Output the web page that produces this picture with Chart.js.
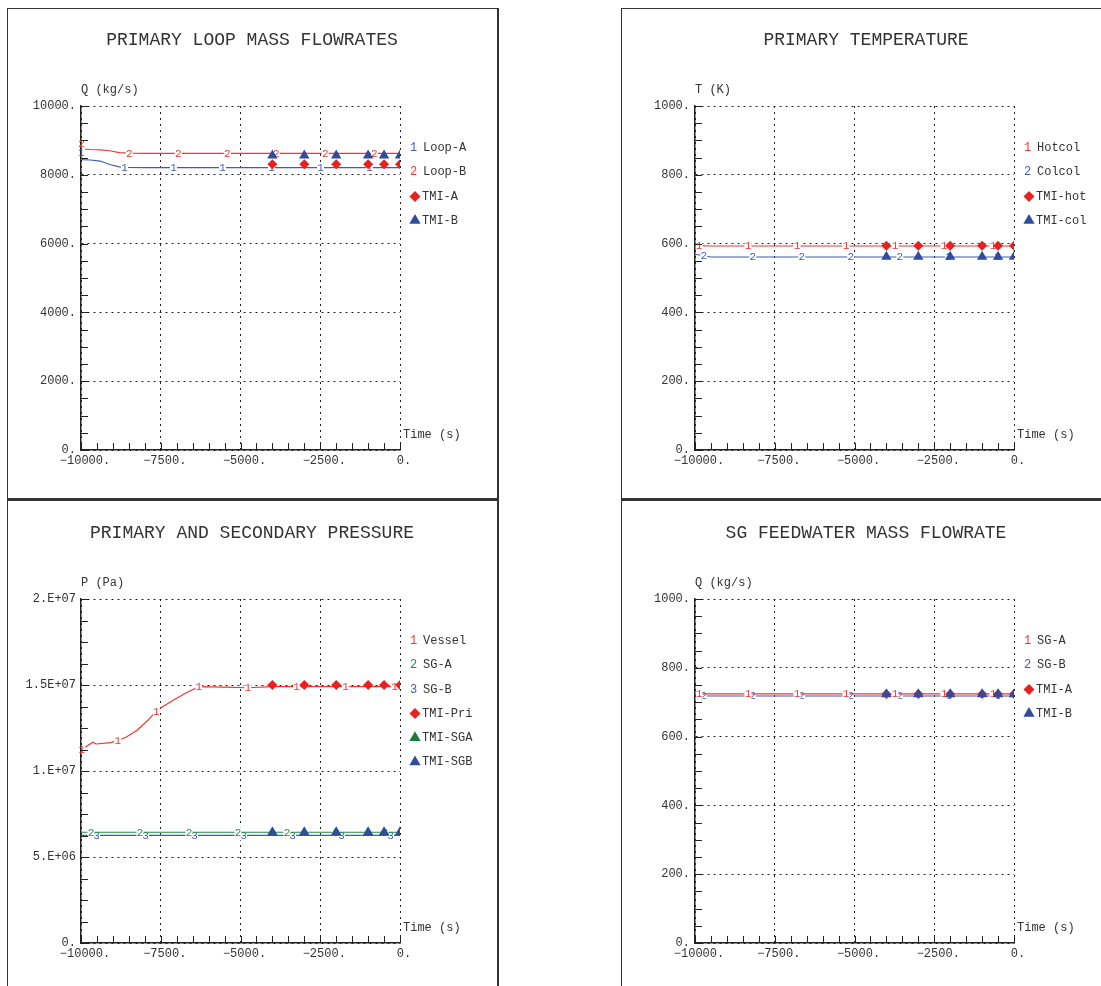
<!DOCTYPE html>
<html>
<head>
<meta charset="utf-8">
<title>Primary / secondary plant plots</title>
<script src="https://cdn.jsdelivr.net/npm/chart.js@4.4.1/dist/chart.umd.min.js"></script>
<style>
  html, body { margin: 0; padding: 0; background: #fff; overflow: hidden; width: 1101px; height: 986px; }
  .frame { position: absolute; background: #333; }
  canvas { position: absolute; }
</style>
</head>
<body>
<div class="frame" style="left:7px;top:8px;width:492px;height:1px"></div>
<div class="frame" style="left:7px;top:8px;width:1px;height:978px"></div>
<div class="frame" style="left:497px;top:8px;width:2px;height:978px"></div>
<div class="frame" style="left:7px;top:498px;width:492px;height:3px"></div>
<div class="frame" style="left:621px;top:8px;width:480px;height:1px"></div>
<div class="frame" style="left:621px;top:8px;width:1px;height:978px"></div>
<div class="frame" style="left:621px;top:498px;width:480px;height:3px"></div>

<canvas id="loopFlow" width="488" height="488" style="left:8px;top:9px"></canvas>
<canvas id="primTemp" width="488" height="488" style="left:622px;top:9px"></canvas>
<canvas id="pressure" width="488" height="484" style="left:8px;top:502px"></canvas>
<canvas id="feedFlow" width="488" height="484" style="left:622px;top:502px"></canvas>

<script>
// ---- x axis (time, s) ----
const xTicks = [-10000, -7500, -5000, -2500, 0];
const xTickLabels = ['−10000.', '−7500.', '−5000.', '−2500.', '0.'];
const xMinor = 500;

// TMI reference points (same times in every panel)
const tmiTime = [-4000, -3000, -2000, -1000, -500, 0];

// ---- primary loop mass flowrates ----
const flowTicks = [0, 2000, 4000, 6000, 8000, 10000];
const flowTickLabels = ['0.', '2000.', '4000.', '6000.', '8000.', '10000.'];
const timeLoop = [-10000, -9950, -9700, -9400, -9100, -8800, -8500, -8000, -6000, -4000, -2000, 0];
const loopA = [8700, 8440, 8430, 8400, 8300, 8230, 8212, 8208, 8208, 8208, 8208, 8208];
const loopB = [8950, 8750, 8735, 8725, 8700, 8645, 8628, 8625, 8625, 8625, 8625, 8625];
const tmiLoopA = [8310, 8310, 8310, 8310, 8310, 8310];
const tmiLoopB = [8560, 8560, 8560, 8560, 8560, 8560];

// ---- primary temperature ----
const tempTicks = [0, 200, 400, 600, 800, 1000];
const tempTickLabels = ['0.', '200.', '400.', '600.', '800.', '1000.'];
const timeTemp = [-10000, -9500, -8000, -6000, -4000, -2000, 0];
const hotcol = [594, 593, 593, 593, 593, 593, 593];
const colcol = [569, 561, 561, 561, 561, 561, 561];
const tmiHot = [594, 594, 594, 594, 594, 594];
const tmiCol = [562, 562, 562, 562, 562, 562];

// ---- primary and secondary pressure ----
const presTicks = [0, 5e6, 1e7, 1.5e7, 2e7];
const presTickLabels = ['0.', '5.E+06', '1.E+07', '1.5E+07', '2.E+07'];
const timeVessel = [-10000, -9630, -9530, -9060, -8600, -8230, -7900, -7600, -7190, -6700, -6300, -5500, -4790, -4000, -2000, 0];
const vessel = [11.22e6, 11.67e6, 11.57e6, 11.65e6, 11.95e6, 12.38e6, 12.95e6, 13.55e6, 14.03e6, 14.55e6, 14.9e6, 14.88e6, 14.84e6, 14.9e6, 14.9e6, 14.9e6];
const timeSG = [-10000, -5000, 0];
const sgAPres = [6.44e6, 6.44e6, 6.44e6];
const sgBPres = [6.26e6, 6.26e6, 6.26e6];
const tmiPri = [15.0e6, 15.0e6, 15.0e6, 15.0e6, 15.0e6, 15.0e6];
const tmiSGA = [6.42e6, 6.42e6, 6.42e6, 6.42e6, 6.42e6, 6.42e6];
const tmiSGB = [6.42e6, 6.42e6, 6.42e6, 6.42e6, 6.42e6, 6.42e6];

// ---- SG feedwater mass flowrate ----
const fwTicks = [0, 200, 400, 600, 800, 1000];
const fwTickLabels = ['0.', '200.', '400.', '600.', '800.', '1000.'];
const timeFw = [-10000, -5000, 0];
const fwA = [724, 724, 724];
const fwB = [718, 718, 718];
const tmiFwA = [724, 724, 724, 724, 724, 724];
const tmiFwB = [723, 723, 723, 723, 723, 723];

// colours
const RED = '#f03535', BLUE = '#3d5db5', GREEN = '#1f8a45';
const RED_M = '#e8201e', BLUE_M = '#2f4c9e', GREEN_M = '#1c7a3c';
const INK = '#333';
const FONT = '"Liberation Mono", "DejaVu Sans Mono", monospace';

const xy = (xs, ys) => xs.map((x, i) => ({ x: x, y: ys[i] }));

// labelArcs: arc length (px) of the first two curve numbers, then one every 49px
function lineSet(label, no, xs, ys, color, labelArcs) {
  return { label, seriesNo: no, labelArcs, data: xy(xs, ys), borderColor: color, backgroundColor: color,
           borderWidth: 1.2, pointRadius: 0, tension: 0, order: 5 };
}
function markSet(label, style, xs, ys, color, order) {
  return { label, data: xy(xs, ys), showLine: false, pointStyle: style,
           pointRadius: style === 'triangle' ? 6 : 5, pointBackgroundColor: color,
           pointBorderWidth: 0, backgroundColor: color, borderColor: color, order };
}

function drawSeriesLabels(chart, ds, meta) {
  const ctx = chart.ctx, area = chart.chartArea;
  const pts = meta.data.map(p => ({ x: p.x, y: p.y }));
  const arcs = ds.labelArcs;
  let n = 0, target = arcs[0], acc = 0;
  ctx.save();
  ctx.font = '11px ' + FONT;
  ctx.textAlign = 'center';
  ctx.textBaseline = 'middle';
  for (let i = 1; i < pts.length; i++) {
    const a = pts[i - 1], b = pts[i];
    const seg = Math.hypot(b.x - a.x, b.y - a.y);
    while (seg > 0 && target <= acc + seg) {
      const f = (target - acc) / seg;
      const x = a.x + f * (b.x - a.x), y = a.y + f * (b.y - a.y);
      if (x < area.right - 2) {
        ctx.fillStyle = '#fff';
        const l = Math.max(x - 3.5, area.left + 1);
        ctx.fillRect(l, y - 5, x + 3.5 - l, 10);
        ctx.fillStyle = ds.borderColor;
        ctx.fillText(String(ds.seriesNo), x, y + 0.5);
      }
      n++;
      target = n < arcs.length ? arcs[n] : target + 49;
    }
    acc += seg;
  }
  ctx.restore();
}

const decor = {
  id: 'decor',
  afterDatasetDraw(chart, args) {
    const ds = chart.data.datasets[args.index];
    if (ds.seriesNo) drawSeriesLabels(chart, ds, args.meta);
  },
  afterDraw(chart, args, opts) {
    const ctx = chart.ctx, area = chart.chartArea;
    const xs = chart.scales.x, ys = chart.scales.y;
    ctx.save();
    // panel title, centred on the whole panel
    ctx.fillStyle = INK;
    ctx.font = '18px ' + FONT;
    ctx.textAlign = 'center';
    ctx.textBaseline = 'middle';
    ctx.fillText(opts.title, chart.width / 2, 31);

    // inward minor ticks
    ctx.strokeStyle = '#222';
    ctx.lineWidth = 1;
    ctx.beginPath();
    for (let v = xs.min; v <= xs.max + 1e-6; v += xMinor) {
      const px = Math.round(xs.getPixelForValue(v)) + 0.5;
      ctx.moveTo(px, area.bottom); ctx.lineTo(px, area.bottom - 7);
    }
    for (let v = ys.min; v <= ys.max + 1e-6; v += opts.yMinor) {
      const py = Math.round(ys.getPixelForValue(v)) + 0.5;
      ctx.moveTo(area.left, py); ctx.lineTo(area.left + 7, py);
    }
    ctx.stroke();

    // axis titles
    ctx.font = '12px ' + FONT;
    ctx.textAlign = 'left';
    ctx.textBaseline = 'alphabetic';
    ctx.fillText(opts.yTitle, area.left, area.top - 13);
    ctx.fillText('Time (s)', area.right + 3, area.bottom - 12);

    // legend
    ctx.textBaseline = 'middle';
    chart.data.datasets.forEach((ds, i) => {
      const y = area.top + 42 + i * 24.2;
      const x = area.right + 10;
      if (ds.seriesNo) {
        ctx.fillStyle = ds.borderColor;
        ctx.fillText(String(ds.seriesNo), x, y);
        ctx.fillStyle = INK;
        ctx.fillText(ds.label, x + 13, y);
      } else {
        ctx.fillStyle = ds.pointBackgroundColor;
        Chart.helpers.drawPoint(ctx, { pointStyle: ds.pointStyle, rotation: 0,
          radius: ds.pointStyle === 'triangle' ? 6.5 : 5.5, borderWidth: 0 }, x + 5, y);
        ctx.fillStyle = INK;
        ctx.fillText(ds.label, x + 12, y);
      }
    });
    ctx.restore();
  }
};

function makeChart(id, title, yTitle, yTicks, yLabels, yMinor, datasets, padBottom) {
  new Chart(document.getElementById(id), {
    type: 'line',
    data: { datasets },
    plugins: [decor],
    options: {
      responsive: false,
      animation: false,
      events: [],
      layout: { padding: { left: 13, right: 96, top: 97, bottom: padBottom } },
      plugins: {
        legend: { display: false },
        tooltip: { enabled: false },
        title: { display: false },
        decor: { title, yTitle, yMinor }
      },
      scales: {
        x: {
          type: 'linear', min: xTicks[0], max: xTicks[xTicks.length - 1],
          afterBuildTicks: s => { s.ticks = xTicks.map(v => ({ value: v })); },
          afterFit: s => { s.height = 30; },
          ticks: { callback: (v, i) => xTickLabels[i], color: INK, padding: 4, labelOffset: 4,
                   maxRotation: 0, autoSkip: false, font: { family: FONT, size: 12 } },
          grid: { color: '#222', lineWidth: 1, drawTicks: false },
          border: { color: '#222', width: 1.5, dash: [2, 4] }
        },
        y: {
          type: 'linear', min: yTicks[0], max: yTicks[yTicks.length - 1],
          afterBuildTicks: s => { s.ticks = yTicks.map(v => ({ value: v })); },
          afterFit: s => { s.width = 60; },
          ticks: { callback: (v, i) => yLabels[i], color: INK, padding: 5,
                   autoSkip: false, font: { family: FONT, size: 12 } },
          grid: { color: '#222', lineWidth: 1, drawTicks: false },
          border: { color: '#222', width: 1.5, dash: [2, 4] }
        }
      }
    }
  });
}

makeChart('loopFlow', 'PRIMARY LOOP MASS FLOWRATES', 'Q (kg/s)', flowTicks, flowTickLabels, 500, [
  lineSet('Loop-A', 1, timeLoop, loopA, BLUE, [2, 52]),
  lineSet('Loop-B', 2, timeLoop, loopB, RED, [2, 54]),
  markSet('TMI-A', 'rectRot', tmiTime, tmiLoopA, RED_M, 2),
  markSet('TMI-B', 'triangle', tmiTime, tmiLoopB, BLUE_M, 1)
], 17);

makeChart('primTemp', 'PRIMARY TEMPERATURE', 'T (K)', tempTicks, tempTickLabels, 50, [
  lineSet('Hotcol', 1, timeTemp, hotcol, RED, [4, 53]),
  lineSet('Colcol', 2, timeTemp, colcol, BLUE, [9, 58]),
  markSet('TMI-hot', 'rectRot', tmiTime, tmiHot, RED_M, 2),
  markSet('TMI-col', 'triangle', tmiTime, tmiCol, BLUE_M, 1)
], 17);

makeChart('pressure', 'PRIMARY AND SECONDARY PRESSURE', 'P (Pa)', presTicks, presTickLabels, 1.25e6, [
  lineSet('Vessel', 1, timeVessel, vessel, RED, [1, 40]),
  lineSet('SG-A', 2, timeSG, sgAPres, GREEN, [10, 59]),
  lineSet('SG-B', 3, timeSG, sgBPres, BLUE, [15.5, 64.5]),
  markSet('TMI-Pri', 'rectRot', tmiTime, tmiPri, RED_M, 3),
  markSet('TMI-SGA', 'triangle', tmiTime, tmiSGA, GREEN_M, 2),
  markSet('TMI-SGB', 'triangle', tmiTime, tmiSGB, BLUE_M, 1)
], 13);

makeChart('feedFlow', 'SG FEEDWATER MASS FLOWRATE', 'Q (kg/s)', fwTicks, fwTickLabels, 50, [
  lineSet('SG-A', 1, timeFw, fwA, RED, [4, 53]),
  lineSet('SG-B', 2, timeFw, fwB, BLUE, [8.5, 57.5]),
  markSet('TMI-A', 'rectRot', tmiTime, tmiFwA, RED_M, 2),
  markSet('TMI-B', 'triangle', tmiTime, tmiFwB, BLUE_M, 1)
], 13);
</script>
</body>
</html>
